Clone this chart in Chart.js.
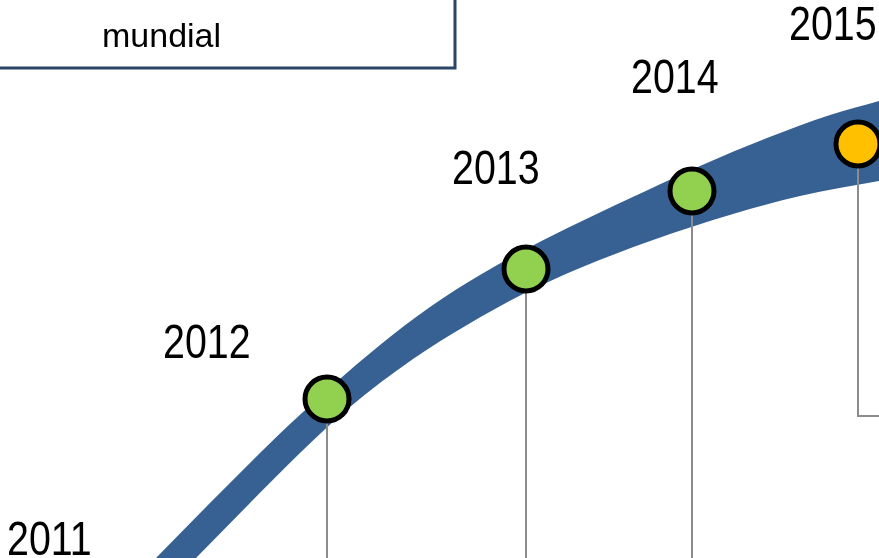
<!DOCTYPE html>
<html>
<head>
<meta charset="utf-8">
<script src="https://cdn.jsdelivr.net/npm/chart.js@4"></script>
<style>
  html, body { margin: 0; padding: 0; background: #ffffff; }
  #wrap { width: 879px; height: 558px; }
</style>
</head>
<body>
<div id="wrap"><canvas id="c" width="879" height="558"></canvas></div>
<script>
// ---- data (in picture units: x right, y down) ----
const years = ['2011', '2012', '2013', '2014', '2015'];
const markerYears = ['2012', '2013', '2014', '2015'];
const markerX = [327, 526, 692, 858];
const markerY = [399, 269, 191, 144];
const markerColors = ['#92D050', '#92D050', '#92D050', '#FFC000'];
// upper and lower edges of the rising band
const bandUpperX = [100, 157, 207, 250, 290, 333, 380, 430, 480, 530, 580, 650, 700, 767, 830, 879, 910];
const bandUpperY = [615, 557, 506, 463, 424, 385, 345, 307, 275, 247, 222, 189, 166, 138, 115, 101, 92];
const bandLowerX = [130, 197, 250, 300, 350, 413, 467, 523, 580, 653, 733, 800, 879, 910];
const bandLowerY = [625, 557, 503, 453, 407, 359, 325, 294, 268, 240, 214, 196, 181, 176];
// elbow line of the 2015 marker
const elbowX = [858, 858, 910];
const elbowY = [144, 416, 416];
// header box corner
const boxX = [-20, 455, 455];
const boxY = [68, 68, -20];
const boxText = 'mundial';
// year label anchors (left, baseline)
const labelX = [7, 163, 452, 631, 789];
const labelY = [555, 358, 184, 93, 40];

const pts = (xs, ys) => xs.map((x, i) => ({ x: x, y: ys[i] }));

const datasets = [];
// markers (drawn on top)
datasets.push({
  label: 'markers',
  data: pts(markerX, markerY),
  showLine: false,
  pointRadius: 22,
  pointHoverRadius: 22,
  pointBorderWidth: 5,
  pointBorderColor: '#000000',
  pointBackgroundColor: markerColors,
  clip: false
});
// drop lines
markerYears.forEach((yr, i) => {
  if (i < 3) {
    datasets.push({
      label: 'drop ' + yr,
      data: [{ x: markerX[i], y: markerY[i] }, { x: markerX[i], y: 620 }],
      borderColor: '#8C8C8C',
      borderWidth: 2,
      pointRadius: 0,
      tension: 0
    });
  }
});
datasets.push({
  label: 'elbow 2015',
  data: pts(elbowX, elbowY),
  borderColor: '#8C8C8C',
  borderWidth: 2,
  pointRadius: 0,
  tension: 0
});
// band
const upperIndex = datasets.length;
datasets.push({
  label: 'band upper',
  data: pts(bandUpperX, bandUpperY),
  borderColor: 'rgba(0,0,0,0)',
  borderWidth: 0,
  pointRadius: 0,
  cubicInterpolationMode: 'monotone',
  fill: false
});
datasets.push({
  label: 'band lower',
  data: pts(bandLowerX, bandLowerY),
  borderColor: 'rgba(0,0,0,0)',
  borderWidth: 0,
  pointRadius: 0,
  cubicInterpolationMode: 'monotone',
  backgroundColor: '#376192',
  fill: { target: upperIndex }
});
// header box
datasets.push({
  label: 'box',
  data: pts(boxX, boxY),
  borderColor: '#2A4566',
  borderWidth: 3,
  pointRadius: 0,
  tension: 0,
  fill: false
});

function narrowAvailable(ctx) {
  ctx.save();
  ctx.font = '48px "Liberation Sans Narrow", monospace';
  const a = ctx.measureText('2012 mundial').width;
  ctx.font = '48px monospace';
  const b = ctx.measureText('2012 mundial').width;
  ctx.restore();
  return a !== b;
}

const labelsPlugin = {
  id: 'labelsPlugin',
  afterDatasetsDraw(chart) {
    const ctx = chart.ctx;
    const xs = chart.scales.x, ys = chart.scales.y;
    const hasNarrow = narrowAvailable(ctx);
    ctx.save();
    ctx.fillStyle = '#000000';
    ctx.textAlign = 'left';
    ctx.textBaseline = 'alphabetic';
    years.forEach((t, i) => {
      const px = xs.getPixelForValue(labelX[i]);
      const py = ys.getPixelForValue(labelY[i]);
      ctx.save();
      if (hasNarrow) {
        ctx.font = '48px "Liberation Sans Narrow", sans-serif';
        ctx.fillText(t, px, py);
      } else {
        ctx.font = '48px "Liberation Sans", Arial, sans-serif';
        ctx.translate(px, py);
        ctx.scale(0.82, 1);
        ctx.fillText(t, 0, 0);
      }
      ctx.restore();
    });
    ctx.font = '34px "Liberation Sans", Arial, sans-serif';
    ctx.fillText(boxText, xs.getPixelForValue(102), ys.getPixelForValue(47));
    ctx.restore();
  }
};

new Chart(document.getElementById('c'), {
  type: 'line',
  data: { datasets: datasets },
  options: {
    responsive: false,
    animation: false,
    events: [],
    layout: { padding: 0, autoPadding: false },
    plugins: { legend: { display: false }, tooltip: { enabled: false } },
    scales: {
      x: { type: 'linear', min: 0, max: 879, display: false },
      y: { type: 'linear', min: 0, max: 558, reverse: true, display: false }
    }
  },
  plugins: [labelsPlugin]
});
</script>
</body>
</html>
